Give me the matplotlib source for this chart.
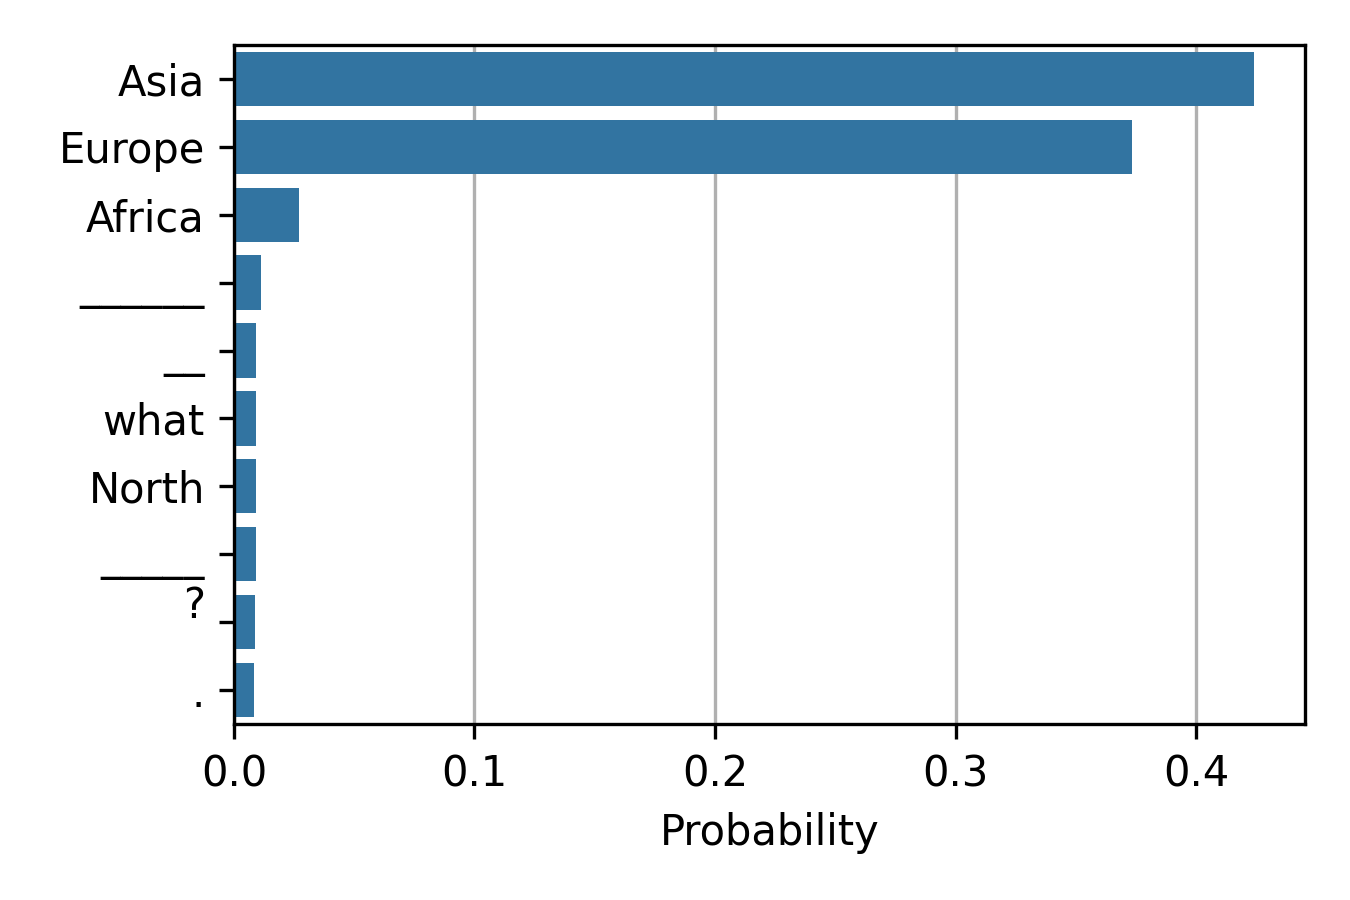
import numpy as np
import matplotlib
matplotlib.use('Agg')
import matplotlib.pyplot as plt

# tokens and their probabilities, top to bottom
tokens = ['Asia', 'Europe', 'Africa', '______', '__', 'what', 'North',
          '_____', '?\n', '.']
probs = [0.4241, 0.3734, 0.0270, 0.0112, 0.0091, 0.0091, 0.0091,
         0.0091, 0.0087, 0.0083]

fig, ax = plt.subplots(figsize=(4.5, 3), dpi=300)
pos = np.arange(len(tokens))
ax.barh(pos, probs, height=0.8, color='#3274a1', zorder=2)
ax.set_yticks(pos)
ax.set_yticklabels(tokens)
ax.set_ylim(len(tokens) - 0.5, -0.5)
ax.set_xlim(0, max(probs) * 1.05)
ax.set_xticks([0.0, 0.1, 0.2, 0.3, 0.4])
ax.set_xlabel('Probability')
ax.grid(axis='x', color='#b0b0b0', linewidth=0.8, zorder=0)
ax.set_axisbelow(True)

fig.subplots_adjust(left=0.1733, right=0.9667, top=0.95, bottom=0.1956)
fig.savefig('out.png', dpi=300)
